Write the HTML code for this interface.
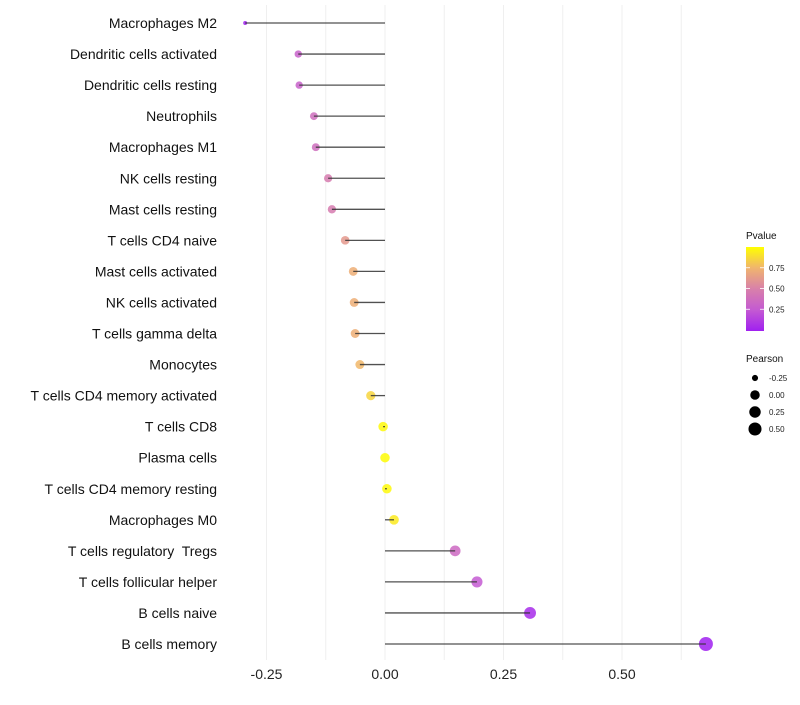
<!DOCTYPE html>
<html><head><meta charset="utf-8"><style>
body{margin:0;background:#fff;font-family:"Liberation Sans",sans-serif}
text{white-space:pre}
</style></head><body>
<svg id="chart" width="800" height="700" xmlns="http://www.w3.org/2000/svg"></svg>
<script>
const categories=["Macrophages M2","Dendritic cells activated","Dendritic cells resting","Neutrophils","Macrophages M1","NK cells resting","Mast cells resting","T cells CD4 naive","Mast cells activated","NK cells activated","T cells gamma delta","Monocytes","T cells CD4 memory activated","T cells CD8","Plasma cells","T cells CD4 memory resting","Macrophages M0","T cells regulatory  Tregs","T cells follicular helper","B cells naive","B cells memory"];
const pearson=[-0.295,-0.183,-0.181,-0.15,-0.146,-0.12,-0.112,-0.084,-0.067,-0.065,-0.063,-0.053,-0.03,-0.004,0.0,0.004,0.019,0.148,0.194,0.306,0.677];
const pvalues=[0.0,0.3,0.3,0.38,0.38,0.47,0.47,0.62,0.72,0.72,0.72,0.76,0.86,0.98,0.99,0.98,0.93,0.35,0.25,0.05,0.0];
const xTicks=[-0.25,0,0.25,0.5];
const xTickLabels=["-0.25","0.00","0.25","0.50"];
const legendTicks=[0.25,0.5,0.75];
const sizeLegend=[-0.25,0,0.25,0.5];
const sizeLegendLabels=["-0.25","0.00","0.25","0.50"];

const NS="http://www.w3.org/2000/svg";
const svg=document.getElementById('chart');
const x=v=>385+v*474;
const y=i=>23+i*31.05;
const pMin=Math.min(...pearson), pMax=Math.max(...pearson);
const r=v=>{const t=Math.max(0,Math.min(1,(v-pMin)/(pMax-pMin)));return 2+5*Math.sqrt(t);};
function col(p){
  const stops=[[0,[160,32,240]],[0.25,[196,90,210]],[0.5,[216,128,170]],[0.75,[240,180,110]],[1,[255,255,0]]];
  for(let k=0;k<stops.length-1;k++){const[a,c1]=stops[k],[b,c2]=stops[k+1];
    if(p<=b){const t=(p-a)/(b-a);return `rgb(${c1.map((c,j)=>Math.round(c+(c2[j]-c)*t)).join(',')})`;}}
  return 'rgb(255,255,0)';
}
function el(tag,attrs,parent){const e=document.createElementNS(NS,tag);for(const k in attrs)e.setAttribute(k,attrs[k]);(parent||svg).appendChild(e);return e;}

for(let v=-0.25;v<=0.65;v+=0.125){
  const g=el('line',{x1:x(v),x2:x(v),y1:5,y2:660,stroke:'#efefef','stroke-width':1});
  
  
}
xTicks.forEach((v,i)=>{
  const t=el('text',{x:x(v),y:679,'text-anchor':'middle','font-size':14,fill:'#222'});
  t.textContent=xTickLabels[i];
  
  
});
categories.forEach((c,i)=>{
  const t=el('text',{x:217,y:y(i)+5,'text-anchor':'end','font-size':14,fill:'#111'});
  t.textContent=c;
  
  
  const d=el('circle',{cx:x(pearson[i]),cy:y(i),r:r(pearson[i]),fill:col(pvalues[i]),'fill-opacity':0.85});
  
  
  const l=el('line',{x1:x(0),x2:x(pearson[i]),y1:y(i),y2:y(i),stroke:'#333','stroke-width':1.3,'stroke-opacity':0.85});
  
  
});
let t=el('text',{x:746,y:239,'font-size':10,fill:'#111'});t.textContent='Pvalue';


const defs=el('defs',{});
const gr=el('linearGradient',{id:'pg',x1:0,y1:1,x2:0,y2:0},defs);
[0,0.25,0.5,0.75,1].forEach(p=>el('stop',{offset:p,'stop-color':col(p)},gr));
const bar=el('rect',{x:746,y:247,width:18,height:84,fill:'url(#pg)'});


legendTicks.forEach(p=>{
  const yy=330-p*83;
  el('line',{x1:746,x2:750,y1:yy,y2:yy,stroke:'#fff','stroke-width':0.8});
  el('line',{x1:760,x2:764,y1:yy,y2:yy,stroke:'#fff','stroke-width':0.8});
  const lt=el('text',{x:769,y:yy+3,'font-size':8,fill:'#222'});lt.textContent=p.toFixed(2);
  
  
});
t=el('text',{x:746,y:362,'font-size':10,fill:'#111'});t.textContent='Pearson';


sizeLegend.forEach((v,i)=>{
  const yy=378+i*17;
  const c=el('circle',{cx:755,cy:yy,r:r(v),fill:'#000'});
  
  
  const lt=el('text',{x:769,y:yy+3,'font-size':8,fill:'#222'});lt.textContent=sizeLegendLabels[i];
  
  
});
</script>
</body></html>
